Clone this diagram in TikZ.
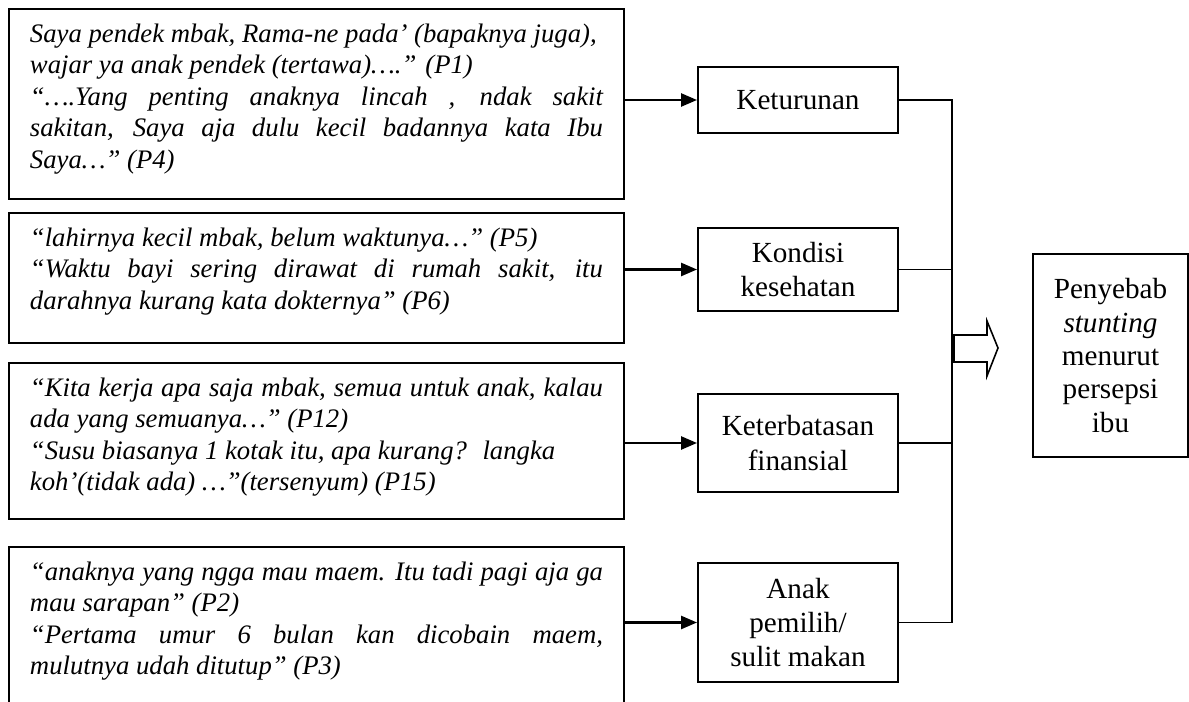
\documentclass[tikz,border=0pt]{standalone}
\usepackage{fontspec}
\setmainfont{Liberation Serif}
\usepackage{tikz}
\usetikzlibrary{positioning,arrows.meta,calc}

\newcommand{\kutipan}[2]{\parbox[t][#1][t]{11.46cm}{\vspace*{0.3cm}\itshape\fontsize{15.2}{17.9}\selectfont #2}}
\newcommand{\penuh}[1]{\makebox[\linewidth][s]{#1}}

\begin{document}
\begin{tikzpicture}[>={Triangle[length=0.32cm,width=0.26cm]}, line width=1.1pt,
  boxkutip/.style={draw, anchor=north west, inner xsep=0.42cm, inner ysep=0pt},
  boxfaktor/.style={draw, minimum width=4cm, align=center, inner sep=2pt, font=\fontsize{16.6}{19.6}\selectfont}]
  \useasboundingbox (0,0) rectangle (23.78,-14.04);
  \clip (0,0) rectangle (23.78,-14.04);

  % Quotes from the mothers (left column)
\node (kutip1) at (0.16,-0.16) [boxkutip] {\kutipan{3.8cm}{Saya pendek mbak, Rama-ne pada’ (bapaknya juga),\\
  wajar ya anak pendek (tertawa)….” (P1)\\
  \penuh{“….Yang penting anaknya lincah , ndak sakit}\\
  \penuh{sakitan, Saya aja dulu kecil badannya kata Ibu}\\
  Saya…” (P4)}};

\node (kutip2) at (0.16,-4.24) [boxkutip] {\kutipan{2.6cm}{“lahirnya kecil mbak, belum waktunya…” (P5)\\
  \penuh{“Waktu bayi sering dirawat di rumah sakit, itu}\\
  darahnya kurang kata dokternya” (P6)}};

\node (kutip3) at (0.16,-7.24) [boxkutip] {\kutipan{3.12cm}{\penuh{“Kita kerja apa saja mbak, semua untuk anak, kalau}\\
  ada yang semuanya…” (P12)\\
  “Susu biasanya 1 kotak itu, apa kurang?~ langka\\
  koh’(tidak ada) …”(tersenyum) (P15)}};

\node (kutip4) at (0.16,-10.92) [boxkutip] {\kutipan{4cm}{\penuh{“anaknya yang ngga mau maem. Itu tadi pagi aja ga}\\
  mau sarapan” (P2)\\
  \penuh{“Pertama umur 6 bulan kan dicobain maem,}\\
  mulutnya udah ditutup” (P3)}};

  % Themes (middle column)
\node (keturunan) at (15.96,-2.0) [boxfaktor, minimum height=1.32cm] {Keturunan};
\node (kondisi) at (15.96,-5.39) [boxfaktor, minimum height=1.66cm] {Kondisi\\kesehatan};
\node (finansial) at (15.96,-8.86) [boxfaktor, minimum height=1.96cm] {Keterbatasan\\finansial};
\node (makan) at (15.96,-12.45) [boxfaktor, minimum height=2.38cm] {Anak\\pemilih/\\sulit makan};

  % Result box
\node (penyebab) at (22.21,-7.11) [boxfaktor, minimum width=3.1cm, minimum height=4.06cm, font=\fontsize{16.6}{19}\selectfont] {Penyebab\\\textit{stunting}\\menurut\\persepsi\\ibu};

  % Quote -> theme arrows
  \draw[->, line width=1.4pt] (kutip1.east |- keturunan.west) -- (keturunan.west);
  \draw[->, line width=1.4pt] (kutip2.east |- kondisi.west) -- (kondisi.west);
  \draw[->, line width=1.4pt] (kutip3.east |- finansial.west) -- (finansial.west);
  \draw[->, line width=1.4pt] (kutip4.east |- makan.west) -- (makan.west);

  % Collecting line on the right
  \coordinate (bus) at (19.04,0);
  \draw[line width=0.9pt] (keturunan.east) -- (keturunan.east -| bus) -- (makan.east -| bus) -- (makan.east);
  \draw[line width=0.9pt] (kondisi.east) -- (kondisi.east -| bus);
  \draw[line width=0.9pt] (finansial.east) -- (finansial.east -| bus);

  % Block arrow towards the result
  \draw[line width=0.9pt] (19.08,-6.70) -- (19.74,-6.70) -- (19.74,-6.42) -- (19.96,-6.96)
    -- (19.74,-7.52) -- (19.74,-7.24) -- (19.08,-7.24) -- cycle;
\end{tikzpicture}
\end{document}
